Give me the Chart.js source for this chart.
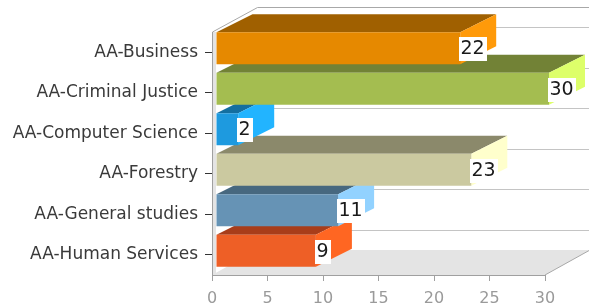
<!DOCTYPE html>
<html>
<head>
<meta charset="utf-8">
<script src="https://cdn.jsdelivr.net/npm/chart.js@4.4.1/dist/chart.umd.min.js"></script>
<style>
    html, body { margin: 0; padding: 0; background: #ffffff; }
    #wrap { width: 589px; height: 307px; }
</style>
</head>
<body>
<div id="wrap"><canvas id="chart" width="589" height="307"></canvas></div>
<script>
// data
const programs = ['AA-Business', 'AA-Criminal Justice', 'AA-Computer Science', 'AA-Forestry', 'AA-General studies', 'AA-Human Services'];
const enrolled = [22, 30, 2, 23, 11, 9];
const xTicks = [0, 5, 10, 15, 20, 25, 30];

// face colours: front, top, right side
const frontColors = ['#E68900', '#A4BD50', '#1E9ADF', '#CBC9A0', '#6693B5', '#EE5F26'];
const topColors = ['#A06000', '#728236', '#146FA0', '#8B896B', '#47687F', '#A83D1A'];
const sideColors = ['#FF9A0A', '#DDFF6A', '#22B4FF', '#FFFFCC', '#92D2FF', '#FF6622'];

const wallDepth = { dx: 45, dy: -25 };
const barDepth = { dx: 36, dy: -18 };
const barShift = { x: 4, y: -4 };

function poly(ctx, pts, fill, stroke) {
    ctx.beginPath();
    ctx.moveTo(pts[0][0], pts[0][1]);
    for (let i = 1; i < pts.length; i++) ctx.lineTo(pts[i][0], pts[i][1]);
    ctx.closePath();
    if (fill) { ctx.fillStyle = fill; ctx.fill(); }
    if (stroke) { ctx.strokeStyle = stroke; ctx.lineWidth = 1; ctx.stroke(); }
}

const plot3d = {
    id: 'plot3d',

    beforeDraw(chart) {
        const ctx = chart.ctx;
        const a = chart.chartArea;
        const dx = wallDepth.dx, dy = wallDepth.dy;
        const yScale = chart.scales.y;
        ctx.save();

        // floor
        poly(ctx, [[a.left, a.bottom], [a.right, a.bottom], [a.right + dx, a.bottom + dy], [a.left + dx, a.bottom + dy]], '#E4E4E4');
        // left wall strip
        ctx.fillStyle = '#E4E4E4';
        ctx.fillRect(a.left, a.top, barShift.x, a.bottom - a.top);

        // gridlines on the back wall
        ctx.strokeStyle = '#C4C4C4';
        ctx.lineWidth = 1;
        programs.forEach((p, i) => {
            const gy = Math.round(yScale.getPixelForValue(i) + dy) + 0.5;
            ctx.beginPath();
            ctx.moveTo(a.left + dx, gy);
            ctx.lineTo(a.right + dx, gy);
            ctx.stroke();
        });

        // outline
        ctx.strokeStyle = '#A8A8A8';
        ctx.beginPath();
        ctx.moveTo(a.left + 0.5, a.top);
        ctx.lineTo(a.left + dx + 0.5, a.top + dy + 0.5);
        ctx.lineTo(a.right + dx, a.top + dy + 0.5);
        ctx.stroke();
        ctx.beginPath();
        ctx.moveTo(a.right, a.bottom);
        ctx.lineTo(a.right + dx, a.bottom + dy);
        ctx.stroke();
        ctx.restore();
    },

    beforeDatasetDraw(chart, args) {
        const ctx = chart.ctx;
        const dx = barDepth.dx, dy = barDepth.dy;
        const bars = args.meta.data;
        ctx.save();
        // bottom bar first so the upper ones cover the top faces below them
        for (let i = bars.length - 1; i >= 0; i--) {
            const el = bars[i];
            const p = el.getProps(['x', 'y', 'base', 'height'], true);
            const L = p.base + barShift.x;
            const R = p.x + barShift.x;
            const T = p.y - p.height / 2 + barShift.y;
            const B = p.y + p.height / 2 + barShift.y;
            poly(ctx, [[L, T], [R, T], [R + dx, T + dy], [L + dx, T + dy]], topColors[i]);
            poly(ctx, [[R, T], [R + dx, T + dy], [R + dx, B + dy], [R, B]], sideColors[i]);
            ctx.save();
            ctx.translate(barShift.x, barShift.y);
            el.draw(ctx);
            ctx.restore();
        }
        ctx.restore();
        return false;
    },

    afterDatasetsDraw(chart) {
        const ctx = chart.ctx;
        const bars = chart.getDatasetMeta(0).data;
        ctx.save();
        ctx.font = '19px "DejaVu Sans"';
        ctx.textBaseline = 'middle';
        ctx.textAlign = 'left';
        bars.forEach((el, i) => {
            const p = el.getProps(['x', 'y'], true);
            const txt = String(enrolled[i]);
            const w = ctx.measureText(txt).width;
            const bx = Math.round(p.x + barShift.x) - 1;
            const cy = p.y + barShift.y + 1;
            ctx.fillStyle = '#FFFFFF';
            ctx.fillRect(bx, Math.round(cy - 12), Math.ceil(w) + 3, 24);
            ctx.fillStyle = '#1A1A1A';
            ctx.fillText(txt, bx + 1.5, cy);
        });
        ctx.restore();
    }
};

new Chart(document.getElementById('chart'), {
    type: 'bar',
    data: {
        labels: programs,
        datasets: [{
            data: enrolled,
            backgroundColor: frontColors,
            borderWidth: 0,
            barPercentage: 0.79,
            categoryPercentage: 1
        }]
    },
    options: {
        indexAxis: 'y',
        responsive: false,
        devicePixelRatio: 1,
        animation: false,
        layout: { padding: { top: 32, right: 44, left: 0, bottom: 0 } },
        plugins: {
            legend: { display: false },
            tooltip: { enabled: false }
        },
        scales: {
            x: {
                min: 0,
                max: 30,
                afterBuildTicks: s => { s.ticks = xTicks.map(v => ({ value: v })); },
                afterFit: s => { s.height = 32; },
                grid: { drawOnChartArea: false, drawTicks: true, tickLength: 6, color: '#A0A0A0' },
                border: { color: '#A0A0A0' },
                ticks: { color: '#9A9A9A', padding: 8, font: { family: 'DejaVu Sans', size: 16 } }
            },
            y: {
                afterFit: s => { s.width = 212; },
                grid: { offset: false, drawOnChartArea: false, drawTicks: true, tickLength: 7, color: '#333333' },
                border: { color: '#A0A0A0' },
                ticks: { color: '#3A3A3A', padding: 7, font: { family: 'DejaVu Sans', size: 17 } }
            }
        }
    },
    plugins: [plot3d]
});
</script>
</body>
</html>
